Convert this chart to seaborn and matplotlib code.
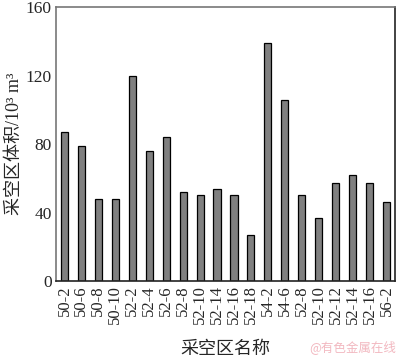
import matplotlib
matplotlib.use("Agg")
import matplotlib.pyplot as plt
import numpy as np
import pandas as pd
import seaborn as sns

# goaf names (some names repeat, so bars are placed by index)
names = ["50-2", "50-6", "50-8", "50-10", "52-2", "52-4", "52-6", "52-8",
         "52-10", "52-14", "52-16", "52-18", "54-2", "54-6", "52-8", "52-10",
         "52-12", "52-14", "52-16", "56-2"]
volumes = [87, 79, 48, 48, 120, 76, 84, 52, 50, 54, 50, 27, 139, 106,
           50, 37, 57, 62, 57, 46]
yticks = [0, 40, 80, 120, 160]

df = pd.DataFrame({"idx": np.arange(len(names)), "vol": volumes})

sns.set_theme(style="white")
plt.rcParams["font.family"] = ["Liberation Serif", "Noto Sans CJK SC"]

fig, ax = plt.subplots(figsize=(4.0, 3.58), dpi=100)
fig.subplots_adjust(left=0.14, right=0.9875, top=0.98, bottom=0.215)

sns.barplot(data=df, x="idx", y="vol", color="#808080", saturation=1,
            width=0.42, edgecolor="black", linewidth=0.9, ax=ax)

ax.set_xlim(-0.5, len(names) - 0.5)
ax.set_ylim(0, 160)
ax.set_yticks(yticks)
ax.set_xticks(np.arange(len(names)))
ax.set_xticklabels(names, rotation=90, fontsize=12)
ax.tick_params(axis="y", direction="in", length=3, labelsize=12.5, pad=3)
ax.tick_params(axis="x", length=0, pad=3)

for side in ["left", "top"]:
    ax.spines[side].set_color("#777777")
for side in ["right", "bottom"]:
    ax.spines[side].set_color("#222222")
for sp in ax.spines.values():
    sp.set_linewidth(1.2)

ax.set_xlabel("采空区名称", fontsize=13, labelpad=12)
ax.set_ylabel("采空区体积/10³ m³", fontsize=13, labelpad=2)

fig.text(0.99, 0.012, "@有色金属在线", color="#f2b8c0", fontsize=9,
         ha="right", va="bottom", family=["Noto Sans CJK SC"])

fig.savefig("out.png", dpi=100)
